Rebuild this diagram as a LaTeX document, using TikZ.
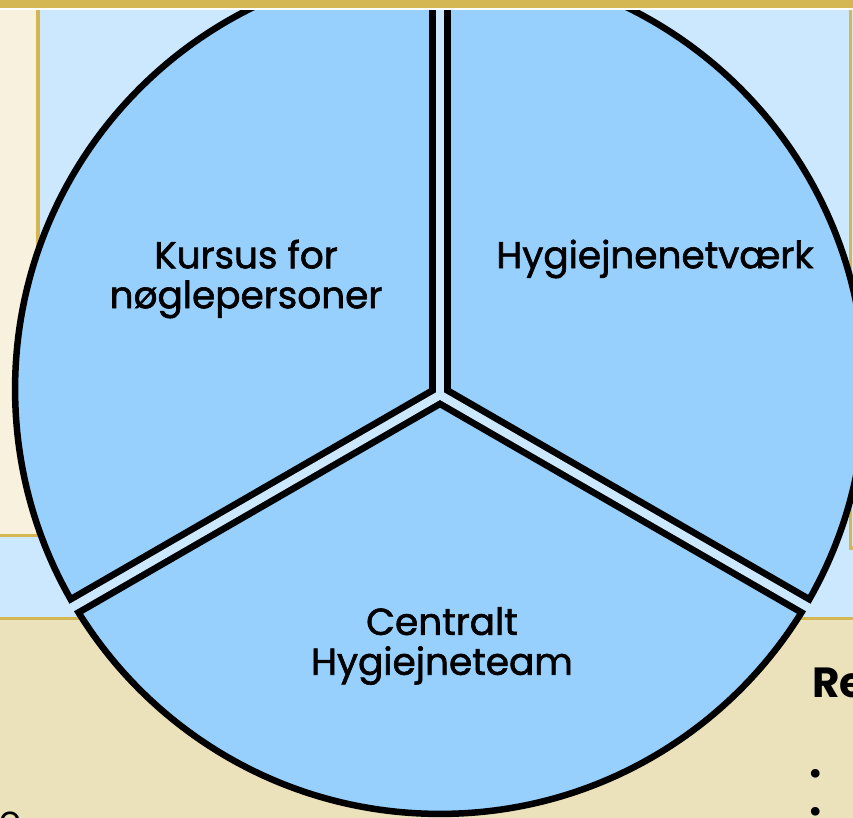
\documentclass[tikz,border=0pt]{standalone}
\usepackage{fontspec}
\setmainfont{Poppins}
\newfontfamily\segfont[BoldFont=Poppins, BoldFeatures={FakeBold=1.6}]{Poppins}
\usetikzlibrary{positioning}
\definecolor{goldline}{HTML}{D4B753}
\definecolor{creampanel}{HTML}{F7F1DE}
\definecolor{tanpanel}{HTML}{EBE2BB}
\definecolor{paleblue}{HTML}{CCE8FF}
\definecolor{pieblue}{HTML}{97D0FD}
\tikzstyle{segment} = [align=center, text centered, font=\segfont\bfseries\fontsize{21.3}{22.7}\selectfont]
\tikzstyle{fragment} = [inner sep=0pt, font=\fontsize{20}{22.7}\selectfont]
\tikzstyle{gapedge} = [draw=black, line width=0.44cm, line cap=butt]
\tikzstyle{gapfill} = [draw=paleblue, line width=0.17cm, line cap=butt]
\tikzstyle{rule} = [draw=goldline, line width=0.07cm]

\begin{document}
\begin{tikzpicture}[x=0.02cm, y=-0.02cm, node distance=0.4cm]
\useasboundingbox (0,0) rectangle (853,818);
\clip (0,0) rectangle (853,818);

% panels behind the pie
\fill[paleblue] (0,10) rectangle (853,618);
\fill[creampanel] (0,10) rectangle (36,535);
\fill[tanpanel] (0,618) rectangle (853,818);
\draw[rule] (37.8,10) -- (37.8,535.5) -- (0,535.5);
\draw[rule] (850.5,10) -- (850.5,548) -- (853,548);
\draw[rule] (0,618.5) -- (853,618.5);

% pie with three parts
\coordinate (centre) at (440,389);
\coordinate (hub) at (440,395);
\coordinate (topend) at (440,-40);
\coordinate (leftend) at (64,612);
\coordinate (rightend) at (816,612);
\filldraw[fill=pieblue, draw=black, line width=0.13cm] (centre) circle (8.5cm);
\begin{scope}
\clip (centre) circle (8.5cm);
\draw[gapedge] (hub) -- (topend);
\draw[gapedge] (hub) -- (leftend);
\draw[gapedge] (hub) -- (rightend);
\end{scope}
\draw[gapfill] (hub) -- (topend);
\draw[gapfill] (hub) -- (leftend);
\draw[gapfill] (hub) -- (rightend);

% top band
\fill[goldline] (0,0) rectangle (853,7.5);
\fill[white] (0,7.5) rectangle (853,10);

\node (kursus) [segment] at (246,279) {Kursus for\\nøglepersoner};
\node (netvaerk) [segment] at (655,259) {Hygiejnenetværk};
\node (team) [segment] at (442,646) {Centralt\\Hygiejneteam};

% cut-off texts at the edges
\node (resume) [fragment, anchor=base west, font=\bfseries\fontsize{24}{28}\selectfont] at (812,697) {Re};
\node (bulletA) [fragment] at (816,777) {\textbullet};
\node (bulletB) [fragment] at (816,815) {\textbullet};
\node (ending) [fragment, anchor=base west] at (-1,831) {e};
\end{tikzpicture}
\end{document}
